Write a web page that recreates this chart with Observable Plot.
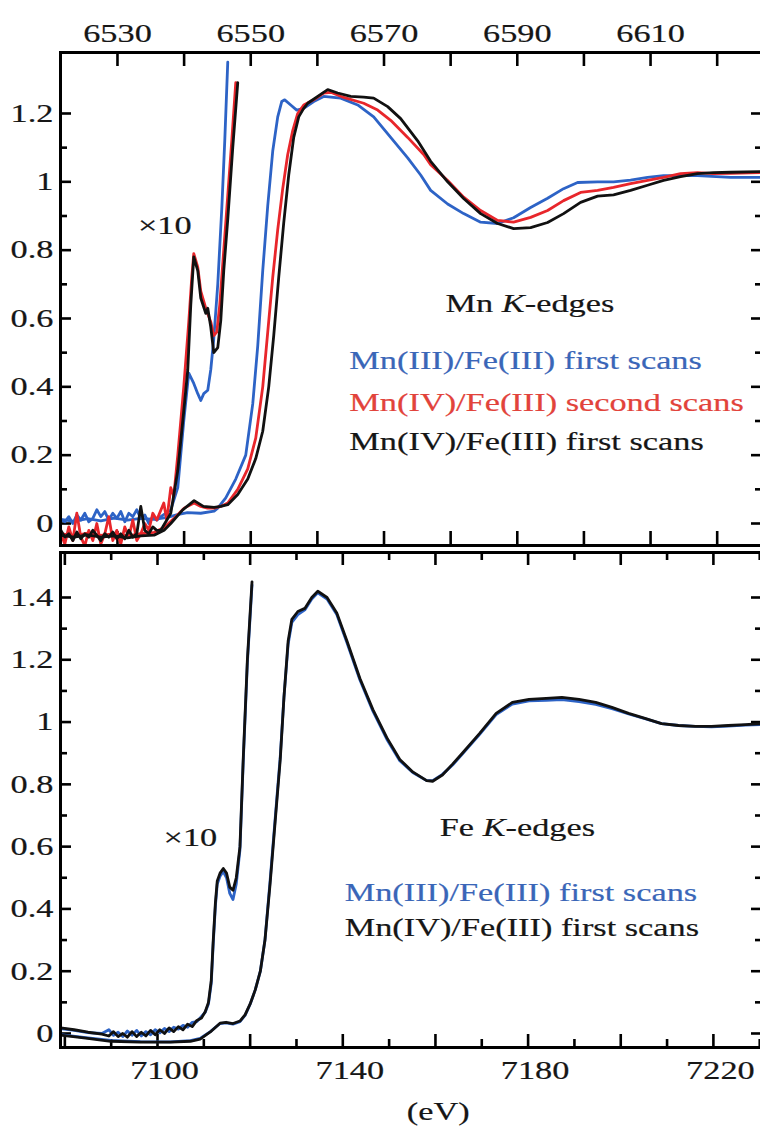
<!DOCTYPE html>
<html><head><meta charset="utf-8">
<script src="https://cdn.jsdelivr.net/npm/d3@7"></script>
<script src="https://cdn.jsdelivr.net/npm/@observablehq/plot@0.6"></script>
<style>
html,body{margin:0;padding:0;background:#fff;overflow:hidden;}
#chart{width:760px;overflow:hidden;}
#chart svg{display:block;}
</style></head><body><div id="chart"></div>
<script>
// ---------------- DATA ----------------
// Mn K-edge, main curves [energy eV, normalized absorption]
const mnIIIfirst = [[6521.5,0.012],[6523.5,0.006],[6525.5,0.014],[6527.5,0.008],[6529.5,0.016],[6531.5,0.01],[6533.5,0.015],[6535.5,0.012],[6537.5,0.018],[6539,0.026],[6540.5,0.032],[6542.5,0.03],[6544.5,0.036],[6545.05,0.045],[6546.25,0.075],[6547.75,0.13],[6549.25,0.2],[6550.3,0.35],[6551.05,0.52],[6551.8,0.74],[6552.55,0.93],[6553.3,1.09],[6554.05,1.19],[6554.65,1.235],[6555.1,1.24],[6556.0,1.225],[6556.9,1.21],[6557.95,1.215],[6559.45,1.235],[6560.95,1.25],[6563.5,1.245],[6566.05,1.225],[6568.45,1.19],[6571.0,1.13],[6573.55,1.07],[6575.5,1.02],[6577.0,0.975],[6579.55,0.935],[6581.95,0.907],[6584.5,0.882],[6587.05,0.878],[6589.45,0.895],[6592.0,0.925],[6594.55,0.952],[6596.95,0.98],[6599.05,0.998],[6602.05,1.0],[6604.45,1.0],[6607.0,1.005],[6609.55,1.013],[6611.95,1.018],[6617.05,1.018],[6622.0,1.013],[6626.8,1.013]];
const mnIVsecond = [[6521.5,-0.03],[6523.5,-0.036],[6525.5,-0.028],[6527.5,-0.035],[6529.5,-0.03],[6531.5,-0.036],[6533.5,-0.03],[6535.5,-0.026],[6537,-0.012],[6538.5,0.015],[6540,0.045],[6541.5,0.06],[6542.5,0.05],[6543.5,0.045],[6544.5,0.045],[6545.5,0.05],[6546.55,0.06],[6548.05,0.1],[6549.55,0.16],[6550.75,0.25],[6551.8,0.4],[6552.55,0.56],[6553.3,0.72],[6554.05,0.86],[6554.8,0.98],[6555.55,1.08],[6556.3,1.15],[6557.05,1.2],[6557.95,1.225],[6559.45,1.24],[6560.95,1.26],[6562.0,1.262],[6563.95,1.247],[6566.95,1.23],[6569.05,1.21],[6571.0,1.18],[6573.55,1.13],[6575.95,1.08],[6577.0,1.05],[6579.55,1.004],[6581.95,0.955],[6584.5,0.916],[6587.05,0.887],[6589.45,0.882],[6592.0,0.896],[6594.55,0.916],[6596.95,0.945],[6599.5,0.969],[6602.05,0.975],[6604.45,0.984],[6607.0,0.995],[6609.55,1.004],[6611.95,1.013],[6614.5,1.024],[6617.05,1.027],[6619.45,1.024],[6622.0,1.025],[6626.8,1.027]];
const mnIVfirst = [[6521.5,-0.035],[6523.5,-0.04],[6525.5,-0.033],[6527.5,-0.04],[6529.5,-0.036],[6531.5,-0.042],[6533.5,-0.036],[6535.5,-0.034],[6537,-0.02],[6538,0.0],[6539.8,0.04],[6541.5,0.067],[6542.9,0.05],[6544.5,0.047],[6545.5,0.05],[6546.55,0.055],[6548.05,0.085],[6549.55,0.13],[6550.75,0.19],[6551.8,0.27],[6552.7,0.4],[6553.45,0.55],[6554.2,0.72],[6554.95,0.88],[6555.7,1.02],[6556.45,1.13],[6557.2,1.19],[6557.95,1.215],[6558.55,1.23],[6560.05,1.25],[6561.55,1.27],[6563.05,1.26],[6565.0,1.25],[6566.95,1.248],[6568.45,1.245],[6570.55,1.22],[6572.5,1.185],[6575.05,1.12],[6577.0,1.06],[6579.55,1.0],[6581.95,0.951],[6584.5,0.907],[6587.05,0.878],[6589.45,0.863],[6592.0,0.866],[6594.55,0.881],[6596.95,0.907],[6599.5,0.94],[6602.05,0.958],[6604.45,0.962],[6607.0,0.975],[6609.55,0.99],[6611.95,1.004],[6614.5,1.015],[6617.05,1.024],[6619.45,1.027],[6622.0,1.028],[6626.8,1.03]];

// Mn K-edge, x10 pre-edge curves: noisy baseline grid + rise
const mnNoiseE = [6521.5,6522.1,6522.7,6523.3,6523.9,6524.5,6525.1,6525.7,6526.3,6526.9,6527.5,6528.1,6528.7,6529.3,6529.9,6530.5,6531.1,6531.7,6532.3,6532.9,6533.5,6534.1,6534.7,6535.3,6535.9];
const mnIIIfirstX10Noise = [0.01,0.005,0.02,0.0,0.025,0.01,0.03,0.005,0.015,0.04,0.02,0.035,0.01,0.03,0.015,0.035,0.005,0.03,0.02,0.04,0.015,0.025,0.0,0.02,0.01];
const mnIVsecondX10Noise = [-0.03,-0.06,-0.01,-0.05,0.03,-0.04,-0.065,-0.02,-0.05,0.0,-0.06,-0.03,0.02,-0.05,-0.02,-0.06,-0.01,-0.04,0.01,-0.05,-0.03,0.0,-0.02,0.03,0.01];
const mnIVfirstX10Noise = [-0.02,-0.04,-0.03,-0.05,-0.025,-0.045,-0.03,-0.04,-0.02,-0.035,-0.05,-0.03,-0.04,-0.025,-0.045,-0.03,-0.045,-0.02,-0.04,-0.03,0.05,-0.02,-0.03,-0.01,-0.02];
const mnIIIfirstX10Rise = [[6536.5,0.02],[6538.0,0.04],[6539.05,0.105],[6539.95,0.3],[6540.7,0.44],[6541.45,0.41],[6542.05,0.38],[6542.5,0.36],[6542.95,0.38],[6543.55,0.39],[6544.0,0.45],[6544.45,0.54],[6545.05,0.7],[6545.65,0.92],[6546.1,1.12],[6546.55,1.35]];
const mnIVsecondX10Rise = [[6536.95,0.06],[6537.4,0.01],[6538.0,0.105],[6538.45,0.08],[6539.05,0.2],[6539.95,0.4],[6540.7,0.59],[6541.15,0.72],[6541.45,0.79],[6542.05,0.75],[6542.5,0.68],[6543.25,0.63],[6544.0,0.59],[6544.45,0.55],[6544.9,0.56],[6545.35,0.64],[6545.95,0.8],[6546.55,0.96],[6547.15,1.12],[6547.75,1.29]];
const mnIVfirstX10Rise = [[6536.5,-0.02],[6538.0,0.03],[6539.05,0.155],[6539.8,0.3],[6540.55,0.45],[6541.0,0.64],[6541.45,0.78],[6542.05,0.74],[6542.5,0.66],[6543.25,0.615],[6543.55,0.63],[6544.0,0.575],[6544.45,0.5],[6545.05,0.515],[6545.5,0.594],[6545.95,0.74],[6546.55,0.89],[6547.3,1.1],[6548.05,1.29]];

// Fe K-edge, main curves
const feIVfirst = [[7079.1,-0.005],[7084.5,-0.015],[7089.9,-0.025],[7096.3,-0.028],[7102.8,-0.028],[7107.1,-0.025],[7109.2,-0.018],[7111.4,0.005],[7113.5,0.033],[7114.8,0.036],[7116.3,0.032],[7117.8,0.04],[7118.9,0.06],[7120.0,0.095],[7121.1,0.14],[7122.2,0.2],[7123.2,0.3],[7124.3,0.48],[7125.4,0.68],[7126.5,0.88],[7127.3,1.08],[7128.2,1.26],[7129.0,1.33],[7130.3,1.355],[7131.8,1.365],[7133.3,1.4],[7134.6,1.42],[7136.6,1.4],[7138.7,1.35],[7140.9,1.26],[7143.7,1.14],[7146.5,1.04],[7149.5,0.95],[7152.3,0.88],[7155.1,0.84],[7158.1,0.812],[7159.4,0.81],[7161.5,0.83],[7163.7,0.865],[7165.8,0.9],[7169.5,0.963],[7173.1,1.028],[7176.6,1.063],[7180.2,1.073],[7183.9,1.076],[7187.3,1.079],[7191.0,1.073],[7194.6,1.063],[7198.1,1.047],[7201.7,1.028],[7205.4,1.011],[7208.8,0.995],[7212.5,0.989],[7216.1,0.986],[7219.6,0.986],[7223.2,0.989],[7226.9,0.992],[7230.6,0.995]];
const feIIIfirst = [[7079.1,-0.004],[7084.5,-0.013],[7089.9,-0.022],[7096.3,-0.026],[7102.8,-0.027],[7107.1,-0.023],[7109.2,-0.016],[7111.4,0.006],[7113.5,0.032],[7114.8,0.034],[7116.3,0.03],[7117.8,0.038],[7118.9,0.058],[7120.0,0.094],[7121.1,0.14],[7122.2,0.2],[7123.2,0.3],[7124.3,0.49],[7125.4,0.69],[7126.5,0.89],[7127.3,1.08],[7128.2,1.25],[7129.0,1.32],[7130.3,1.345],[7131.8,1.36],[7133.3,1.395],[7134.6,1.415],[7136.6,1.395],[7138.7,1.345],[7140.9,1.255],[7143.7,1.135],[7146.5,1.035],[7149.5,0.945],[7152.3,0.876],[7155.1,0.838],[7158.1,0.812],[7159.4,0.812],[7161.5,0.832],[7163.7,0.862],[7165.8,0.897],[7169.5,0.96],[7173.1,1.024],[7176.6,1.058],[7180.2,1.068],[7183.9,1.07],[7187.3,1.072],[7191.0,1.066],[7194.6,1.057],[7198.1,1.043],[7201.7,1.026],[7205.4,1.01],[7208.8,0.995],[7212.5,0.989],[7216.1,0.986],[7219.6,0.985],[7223.2,0.987],[7226.9,0.99],[7230.6,0.992]];
// Fe K-edge, x10 pre-edge curves
const feIVfirstX10 = [[7079.1,0.018],[7082,0.012],[7085,0.004],[7088,-0.002],[7089.5,-0.008],[7090.5,0.006],[7091.5,-0.01],[7092.5,0.0],[7093.5,-0.012],[7094.5,0.006],[7095.5,-0.01],[7096.5,0.004],[7097.5,-0.008],[7098.5,0.01],[7099.5,-0.004],[7100.5,0.012],[7101.5,0.0],[7102.5,0.018],[7103.5,0.006],[7104.5,0.022],[7105.5,0.012],[7106.5,0.03],[7107.5,0.022],[7108.5,0.042],[7109.5,0.05],[7110.3,0.07],[7111.0,0.1],[7111.6,0.17],[7112.0,0.29],[7112.5,0.42],[7112.9,0.49],[7113.5,0.515],[7114.2,0.53],[7114.9,0.515],[7115.6,0.47],[7116.3,0.46],[7117.0,0.5],[7117.8,0.6],[7118.5,0.88],[7119.4,1.2],[7120.4,1.45]];
const feIIIfirstX10 = [[7079.1,0.016],[7082,0.01],[7085,0.003],[7088,0.0],[7089.5,0.012],[7090.5,-0.006],[7091.5,0.004],[7092.5,-0.01],[7093.5,0.008],[7094.5,-0.006],[7095.5,0.01],[7096.5,-0.008],[7097.5,0.006],[7098.5,-0.004],[7099.5,0.012],[7100.5,0.002],[7101.5,0.016],[7102.5,0.006],[7103.5,0.02],[7104.5,0.014],[7105.5,0.026],[7106.5,0.02],[7107.5,0.036],[7108.5,0.038],[7109.5,0.055],[7110.3,0.068],[7111.0,0.095],[7111.6,0.16],[7112.0,0.28],[7112.5,0.41],[7112.9,0.48],[7113.5,0.505],[7114.2,0.52],[7114.9,0.5],[7115.6,0.45],[7116.3,0.43],[7117.0,0.48],[7117.8,0.59],[7118.5,0.87],[7119.4,1.19],[7120.4,1.44]];

// Ticks and labels
const mnXTicks = [6530,6540,6550,6560,6570,6580,6590,6600,6610,6620];
const mnXLabels = [6530,6550,6570,6590,6610];
const mnYMajor = [0,0.2,0.4,0.6,0.8,1,1.2];
const mnYMinor = [0.1,0.3,0.5,0.7,0.9,1.1];
const feXMajor = [7080,7100,7120,7140,7160,7180,7200,7220];
const feXMinor = [7090,7110,7130,7150,7170,7190,7210,7230];
const feXLabels = [7100,7140,7180,7220];
const feYMajor = [0,0.2,0.4,0.6,0.8,1,1.2,1.4];
const feYMinor = [0.1,0.3,0.5,0.7,0.9,1.1,1.3];

// Text
const mnTitle = "Mn K-edges";
const feTitle = "Fe K-edges";
const mnLegend = ["Mn(III)/Fe(III) first scans","Mn(IV)/Fe(III) second scans","Mn(IV)/Fe(III) first scans"];
const feLegend = ["Mn(III)/Fe(III) first scans","Mn(IV)/Fe(III) first scans"];
const x10Label = "\u00d710";
const unitLabel = "(eV)";

// ---------------- DRAW ----------------
const FONT = "'Liberation Serif', 'Times New Roman', serif";
const BLUE = "#2d63c6", RED = "#e8262b", BLACK = "#111111";
const BLUE_T = "#3a66b8", RED_T = "#e2433b", TXT = "#161616";
const pts = (arr) => arr.map(([E, v]) => ({E, v}));
const zip = (Es, vs, rise) => Es.map((E, i) => ({E, v: vs[i]})).concat(pts(rise));
const W = 764, ML = 60, MR = 2, FW = W - ML - MR;
const LW = 2.8;
const frameStyle = {stroke: "black", strokeWidth: 3};
const styleObj = {fontFamily: FONT, fontSize: "26px", background: "white", maxWidth: "none", overflow: "visible"};
const FS = 26;

function tickMarks(xMaj, xMin, yMaj, yMin, FH, xLong, xShort) {
  const t = {stroke: "black", strokeWidth: 2.6};
  const m = [];
  m.push(Plot.ruleX(xMaj, {x: d => d, insetBottom: FH - xLong, ...t}));
  m.push(Plot.ruleX(xMaj, {x: d => d, insetTop: FH - xLong, ...t}));
  if (xMin) {
    m.push(Plot.ruleX(xMin, {x: d => d, insetBottom: FH - xShort, ...t}));
    m.push(Plot.ruleX(xMin, {x: d => d, insetTop: FH - xShort, ...t}));
  }
  m.push(Plot.ruleY(yMaj, {y: d => d, insetRight: FW - 11, ...t}));
  m.push(Plot.ruleY(yMin, {y: d => d, insetRight: FW - 7, ...t}));
  m.push(Plot.ruleY(yMaj, {y: d => d, insetLeft: FW - 11, ...t}));
  m.push(Plot.ruleY(yMin, {y: d => d, insetLeft: FW - 7, ...t}));
  return m;
}
const line = (data, stroke) => Plot.line(data, {x: "E", y: "v", stroke, strokeWidth: LW, strokeLinejoin: "round", clip: true});

const topFH = 493;
const topChart = Plot.plot({
  width: W, height: 548, marginLeft: ML, marginRight: MR, marginTop: 52, marginBottom: 3,
  style: styleObj,
  x: {domain: [6521.45, 6626.8], axis: null},
  y: {domain: [-0.0644, 1.3785], axis: null},
  marks: [
    ...tickMarks(mnXTicks, null, mnYMajor, mnYMinor, topFH, 14, 14),
    line(zip(mnNoiseE, mnIIIfirstX10Noise, mnIIIfirstX10Rise), BLUE),
    line(pts(mnIIIfirst), BLUE),
    line(zip(mnNoiseE, mnIVsecondX10Noise, mnIVsecondX10Rise), RED),
    line(pts(mnIVsecond), RED),
    line(zip(mnNoiseE, mnIVfirstX10Noise, mnIVfirstX10Rise), BLACK),
    line(pts(mnIVfirst), BLACK),
    Plot.frame(frameStyle),
    Plot.text(mnXLabels, {x: d => d, frameAnchor: "top", lineAnchor: "middle", dy: -19, text: d => String(d), fontSize: FS, fill: TXT}),
    Plot.text(mnYMajor, {y: d => d, frameAnchor: "left", lineAnchor: "middle", dx: -7, textAnchor: "end", text: d => String(d), fontSize: FS, fill: TXT}),
    Plot.text([x10Label], {x: 6537.1, y: 0.872, text: d => d, fontSize: FS, fill: TXT}),
    Plot.text([mnTitle], {x: 6591.9, y: 0.644, text: d => d, fontSize: FS, fill: TXT}),
    Plot.text([mnLegend[0]], {x: 6564.8, y: 0.477, text: d => d, textAnchor: "start", fontSize: FS, fill: BLUE_T}),
    Plot.text([mnLegend[1]], {x: 6564.8, y: 0.354, text: d => d, textAnchor: "start", fontSize: FS, fill: RED_T}),
    Plot.text([mnLegend[2]], {x: 6564.8, y: 0.240, text: d => d, textAnchor: "start", fontSize: FS, fill: TXT})
  ]
});

const botFH = 495;
const botChart = Plot.plot({
  width: W, height: 581, marginLeft: ML, marginRight: MR, marginTop: 4, marginBottom: 82,
  style: styleObj,
  x: {domain: [7079.06, 7230.6], axis: null},
  y: {domain: [-0.045, 1.5445], axis: null},
  marks: [
    ...tickMarks(feXMajor, feXMinor, feYMajor, feYMinor, botFH, 13, 8),
    line(pts(feIIIfirstX10), BLUE),
    line(pts(feIIIfirst), BLUE),
    line(pts(feIVfirstX10), BLACK),
    line(pts(feIVfirst), BLACK),
    Plot.frame(frameStyle),
    Plot.text(feXLabels, {x: d => d, frameAnchor: "bottom", lineAnchor: "middle", dy: 23, dx: 7, text: d => String(d), fontSize: FS, fill: TXT}),
    Plot.text(feYMajor, {y: d => d, frameAnchor: "left", lineAnchor: "middle", dx: -7, textAnchor: "end", text: d => String(d), fontSize: FS, fill: TXT}),
    Plot.text([unitLabel], {x: 7160.6, frameAnchor: "bottom", lineAnchor: "middle", dy: 64, text: d => d, fontSize: FS, fill: TXT}),
    Plot.text([x10Label], {x: 7107.1, y: 0.629, text: d => d, fontSize: FS, fill: TXT}),
    Plot.text([feTitle], {x: 7177.7, y: 0.661, text: d => d, fontSize: FS, fill: TXT}),
    Plot.text([feLegend[0]], {x: 7140.4, y: 0.453, text: d => d, textAnchor: "start", fontSize: FS, fill: BLUE_T}),
    Plot.text([feLegend[1]], {x: 7140.4, y: 0.340, text: d => d, textAnchor: "start", fontSize: FS, fill: TXT})
  ]
});

const host = document.getElementById("chart");
host.append(topChart, botChart);

function italicK(svg) {
  const ns = "http://www.w3.org/2000/svg";
  svg.querySelectorAll("text").forEach(t => {
    const m = t.textContent.match(/^(\S+) K-edges$/);
    if (m) {
      t.textContent = "";
      const a = document.createElementNS(ns, "tspan"); a.textContent = m[1] + " ";
      const b = document.createElementNS(ns, "tspan"); b.textContent = "K"; b.setAttribute("font-style", "italic");
      const c = document.createElementNS(ns, "tspan"); c.textContent = "-edges";
      t.append(a, b, c);
    }
  });
}
function stretch(svg, k) {
  svg.querySelectorAll("text").forEach(t => {
    const b = t.getBBox();
    const cs = getComputedStyle(t);
    const anchor = cs.textAnchor;
    const ax = anchor === "end" ? b.x + b.width : anchor === "middle" ? b.x + b.width / 2 : b.x;
    const old = t.getAttribute("transform") || "";
    t.setAttribute("transform", `${old} translate(${ax},0) scale(${k},1) translate(${-ax},0)`);
    t.setAttribute("stroke", cs.fill);
    t.setAttribute("stroke-width", "0.2");
  });
}
[topChart, botChart].forEach(svg => { italicK(svg); stretch(svg, 1.32); });
</script></body></html>
